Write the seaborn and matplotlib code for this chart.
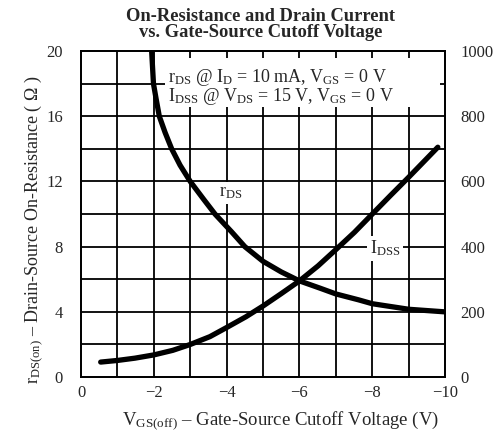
import matplotlib
matplotlib.use("Agg")
import matplotlib.pyplot as plt
from matplotlib.patches import Rectangle
import pandas as pd
import seaborn as sns

# Values
rds_vgs = [-1.94, -1.99, -2.06, -2.15, -2.31, -2.49, -2.72, -3.0, -3.37, -3.68,
           -4.14, -4.5, -5.0, -5.5, -6.0, -6.57, -7.0, -7.62, -8.0, -9.0, -10.0]
rds_ohm = [20.0, 18.0, 17.1, 16.0, 15.0, 14.0, 13.0, 12.0, 10.9, 10.0,
           8.9, 8.0, 7.1, 6.45, 5.9, 5.45, 5.1, 4.74, 4.5, 4.16, 4.0]

idss_vgs = [-0.54, -1.0, -1.48, -2.0, -2.52, -3.0, -3.54, -4.0, -4.53, -5.0,
            -5.5, -6.0, -6.51, -7.0, -7.51, -8.0, -8.5, -9.0, -9.8]
idss_ma = [46, 51, 58, 68, 82, 100, 124, 152, 185, 218,
           256, 295, 341, 391, 444, 500, 557, 613, 705]

x_ticks = [0, -2, -4, -6, -8, -10]
x_labels = ["0", "\u22122", "\u22124", "\u22126", "\u22128", "\u221210"]
left_ticks = [0, 4, 8, 12, 16, 20]
right_ticks = [0, 200, 400, 600, 800, 1000]

df_rds = pd.DataFrame({"vgs": rds_vgs, "rds": rds_ohm})
df_idss = pd.DataFrame({"vgs": idss_vgs, "idss": idss_ma})

sns.set_style("white")
plt.rcParams["font.family"] = ["Liberation Serif", "DejaVu Serif"]
plt.rcParams["mathtext.fontset"] = "custom"
plt.rcParams["mathtext.rm"] = "Liberation Serif"
plt.rcParams["mathtext.it"] = "Liberation Serif:italic"
plt.rcParams["mathtext.bf"] = "Liberation Serif:bold"

fig = plt.figure(figsize=(4.94, 4.40), dpi=100)
ax = fig.add_axes([0.164, 0.143, 0.737, 0.741])
ax2 = ax.twinx()

# grid every 1 V and every 2 ohm
for v in range(-9, 0):
    ax.axvline(v, color="black", lw=1.3, zorder=0)
for r in range(2, 20, 2):
    ax.axhline(r, color="black", lw=1.3, zorder=0)

# white box behind the test-condition note
ax.add_patch(Rectangle((-2.32, 16.55), -7.55, 3.05, facecolor="white",
                       edgecolor="none", zorder=1))

sns.lineplot(data=df_rds, x="vgs", y="rds", ax=ax, color="black", lw=3.8,
             sort=False, solid_capstyle="round", solid_joinstyle="round", zorder=3)
sns.lineplot(data=df_idss, x="vgs", y="idss", ax=ax2, color="black", lw=3.8,
             sort=False, solid_capstyle="round", solid_joinstyle="round", zorder=3)

ax.set_xlim(0, -10)
ax.set_ylim(0, 20)
ax2.set_ylim(0, 1000)
ax.set_xticks(x_ticks)
ax.set_xticklabels(x_labels)
ax.set_yticks(left_ticks)
ax2.set_yticks(right_ticks)

for a in (ax, ax2):
    for s in a.spines.values():
        s.set_color("black")
        s.set_linewidth(1.3)
ax.tick_params(axis="y", length=0, pad=13, labelsize=12)
ax.tick_params(axis="x", length=0, pad=6, labelsize=12)
ax2.tick_params(axis="y", length=0, pad=11, labelsize=12)

ax.set_xlabel("V$_{\\mathrm{GS(off)}}$ \u2013 Gate-Source Cutoff Voltage (V)", fontsize=13.5)
ax.xaxis.set_label_coords(0.549, -0.098)
ax.set_ylabel("r$_{\\mathrm{DS(on)}}$ \u2013 Drain-Source On-Resistance ( \u03a9 )", fontsize=13)
ax.yaxis.set_label_coords(-0.1, 0.45)
ax2.set_ylabel("")

fig.text(0.528, 0.982, "On-Resistance and Drain Current\nvs. Gate-Source Cutoff Voltage",
         ha="center", va="top", fontsize=13.3, fontweight="bold", linespacing=0.95)

note = ("r$_{\\mathrm{DS}}$ @ I$_{\\mathrm{D}}$ = 10 mA, V$_{\\mathrm{GS}}$ = 0 V\n"
        "I$_{\\mathrm{DSS}}$ @ V$_{\\mathrm{DS}}$ = 15 V, V$_{\\mathrm{GS}}$ = 0 V")
ax.text(-2.4, 19.05, note, ha="left", va="top", fontsize=13, linespacing=0.9, zorder=2)

ax.text(-4.12, 11.3, "r$_{\\mathrm{DS}}$", ha="center", va="center", fontsize=13,
        bbox=dict(facecolor="white", edgecolor="none", pad=2), zorder=2)
ax.text(-8.35, 7.9, "I$_{\\mathrm{DSS}}$", ha="center", va="center", fontsize=13,
        bbox=dict(facecolor="white", edgecolor="none", pad=2), zorder=2)

fig.savefig("out.png", dpi=100)
